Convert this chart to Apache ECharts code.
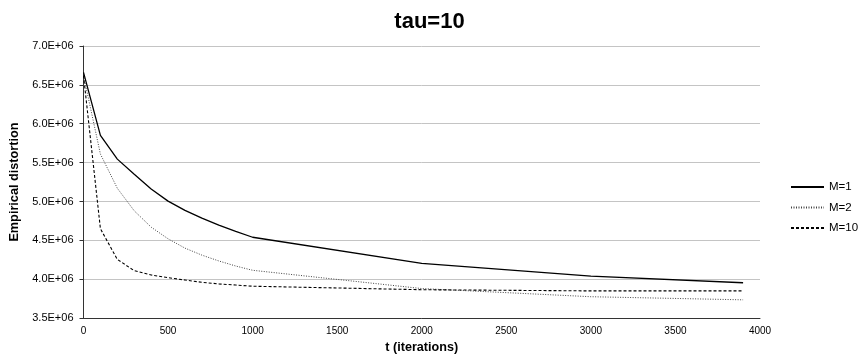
<!DOCTYPE html>
<html>
<head>
<meta charset="utf-8">
<script src="https://cdn.jsdelivr.net/npm/echarts@6/dist/echarts.min.js"></script>
<style>
  html, body { margin: 0; padding: 0; background: #fff; }
  #chart { width: 859px; height: 359px; }
</style>
</head>
<body>
<div id="chart"></div>
<script>
var titleText = 'tau=10';
var xAxisName = 't (iterations)';
var yAxisName = 'Empirical distortion';
var seriesNames = ['M=1', 'M=2', 'M=10'];
var iterations = [0, 100, 200, 300, 400, 500, 600, 700, 800, 900, 1000, 2000, 3000, 3900];
var m1 = [6660000, 5850000, 5545000, 5350000, 5160000, 5005000, 4885000, 4785000, 4695000, 4615000, 4540000, 4205000, 4040000, 3955000];
var m2 = [6620000, 5610000, 5170000, 4880000, 4670000, 4520000, 4400000, 4310000, 4235000, 4170000, 4115000, 3880000, 3775000, 3735000];
var m10 = [6620000, 4650000, 4255000, 4110000, 4055000, 4020000, 3990000, 3960000, 3940000, 3925000, 3910000, 3865000, 3850000, 3850000];

function pairs(xs, ys) { return xs.map(function (x, i) { return [x, ys[i]]; }); }

var font = 'Liberation Sans, Arial, sans-serif';
var narrow = 'Liberation Sans Narrow, Arial Narrow, Liberation Sans, sans-serif';
var chart = echarts.init(document.getElementById('chart'), null, { renderer: 'canvas' });
chart.setOption({
  animation: false,
  backgroundColor: '#ffffff',
  title: {
    text: titleText, left: 'center', top: 6,
    textStyle: { fontFamily: font, fontSize: 22, fontWeight: 'bold', color: '#000' }
  },
  legend: {
    orient: 'vertical', left: 785, top: 176,
    itemWidth: 33, itemHeight: 14, itemGap: 8.5,
    itemStyle: { opacity: 0 },
    textStyle: { fontFamily: font, fontSize: 11.5, color: '#000' },
    data: seriesNames
  },
  grid: { left: 83, right: 99, top: 46, bottom: 32, containLabel: false },
  xAxis: {
    type: 'value', min: 0, max: 4000, interval: 500,
    name: xAxisName, nameLocation: 'middle', nameGap: 19,
    nameTextStyle: { fontFamily: font, fontSize: 12.6, fontWeight: 'bold', color: '#000' },
    axisLine: { show: true, lineStyle: { color: '#333', width: 1 } },
    axisTick: { show: false },
    axisLabel: { fontFamily: narrow, fontSize: 10, color: '#000', margin: 8,
      formatter: function (v) { return String(v); } },
    splitLine: { show: false }
  },
  yAxis: {
    type: 'value', min: 3500000, max: 7000000, interval: 500000,
    name: yAxisName, nameLocation: 'middle', nameGap: 62.5, nameRotate: 90,
    nameTextStyle: { fontFamily: font, fontSize: 12.7, fontWeight: 'bold', color: '#000' },
    axisLine: { show: true, lineStyle: { color: '#333', width: 1 } },
    axisTick: { show: true, inside: false, length: 4, lineStyle: { color: '#333' } },
    axisLabel: {
      fontFamily: font, fontSize: 11, color: '#000', margin: 10,
      formatter: function (v) { return (v / 1e6).toFixed(1) + 'E+06'; }
    },
    splitLine: { show: true, lineStyle: { color: '#c4c4c4', width: 1 } }
  },
  series: [
    { name: seriesNames[0], type: 'line', symbol: 'none', data: pairs(iterations, m1),
      itemStyle: { color: '#000' }, lineStyle: { color: '#000', width: 1.3, type: 'solid' } },
    { name: seriesNames[1], type: 'line', symbol: 'none', data: pairs(iterations, m2),
      itemStyle: { color: '#444' }, lineStyle: { color: '#444', width: 1, type: [1, 1.5] } },
    { name: seriesNames[2], type: 'line', symbol: 'none', data: pairs(iterations, m10),
      itemStyle: { color: '#000' }, lineStyle: { color: '#000', width: 1.1, type: [3, 2] } }
  ]
});
</script>
</body>
</html>
